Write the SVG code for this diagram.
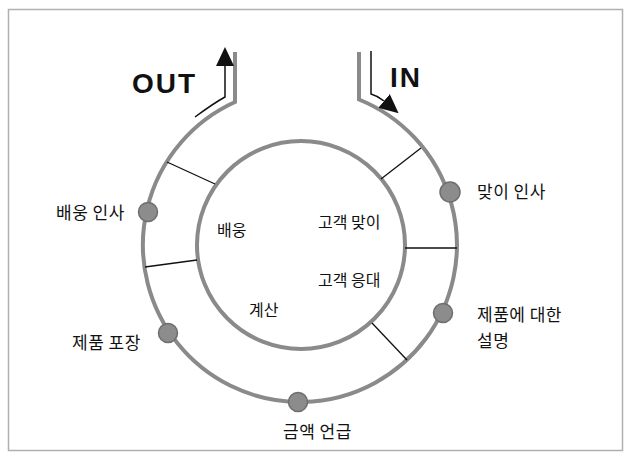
<svg xmlns="http://www.w3.org/2000/svg" width="630" height="459" viewBox="0 0 630 459">
<style>
.ring{fill:none;stroke:#8a8a8a;stroke-width:4}
.spoke{stroke:#111;stroke-width:1.3;fill:none}
.flow{stroke:#111;stroke-width:1.5;fill:none}
.dot{fill:#8c8c8c;stroke:#6e6e6e;stroke-width:1.5}
.lbl{font-family:"Noto Sans CJK KR","Noto Sans",sans-serif;font-size:17px;fill:#111;letter-spacing:0.5px}
.inl{font-family:"Noto Sans CJK KR","Noto Sans",sans-serif;font-size:16px;fill:#111}
.big{font-family:"Liberation Sans",Arial,sans-serif;font-size:28px;font-weight:bold;fill:#111;letter-spacing:2px}
</style>
<defs>
<marker id="ah" markerUnits="userSpaceOnUse" viewBox="0 0 19 18" refX="0" refY="9" markerWidth="19" markerHeight="18" orient="auto">
<path d="M0,0 L19,9 L0,18 z" fill="#111"/>
</marker>
</defs>
<rect x="8.5" y="9.5" width="614" height="441" fill="none" stroke="#b0b0b0" stroke-width="1.5"/>
<g id="connectors">
<path class="ring" d="M235 52 L235 102 A157 157 0 1 0 359 99.5 L359 52"/>
<circle class="ring" cx="301" cy="245" r="104"/>
<line class="spoke" x1="167" y1="162" x2="215" y2="184"/>
<line class="spoke" x1="145" y1="267" x2="197" y2="260"/>
<line class="spoke" x1="381" y1="179" x2="421" y2="148"/>
<line class="spoke" x1="405" y1="248" x2="457" y2="248"/>
<line class="spoke" x1="372" y1="323" x2="407" y2="360"/>
<path class="flow" d="M195 117 Q214 103 225 97 L225 66" marker-end="url(#ah)"/>
<path class="flow" d="M371 51 L371 94 Q378 96 384 101" marker-end="url(#ah)"/>
</g>
<g id="out"><text class="big" x="132" y="93">OUT</text></g>
<g id="in"><text class="big" x="390" y="87">IN</text></g>
<g id="n-send-greet"><circle class="dot" cx="148" cy="212" r="9.5"/><text class="lbl" x="56" y="219">배웅 인사</text></g>
<g id="n-welcome-greet"><circle class="dot" cx="450" cy="192" r="10"/><text class="lbl" x="477" y="198">맞이 인사</text></g>
<g id="n-product-explain"><circle class="dot" cx="443" cy="313" r="9.5"/><text class="lbl" x="477" y="321">제품에 대한</text><text class="lbl" x="477" y="347">설명</text></g>
<g id="n-pack"><circle class="dot" cx="168" cy="333" r="9.5"/><text class="lbl" x="72" y="349">제품 포장</text></g>
<g id="n-amount"><circle class="dot" cx="298" cy="402" r="9.5"/><text class="lbl" x="283" y="438">금액 언급</text></g>
<g id="s-send"><text class="inl" x="217" y="235.5">배웅</text></g>
<g id="s-welcome"><text class="inl" x="318" y="227.5">고객 맞이</text></g>
<g id="s-serve"><text class="inl" x="318" y="285.5">고객 응대</text></g>
<g id="s-pay"><text class="inl" x="249" y="315.5">계산</text></g>
</svg>
